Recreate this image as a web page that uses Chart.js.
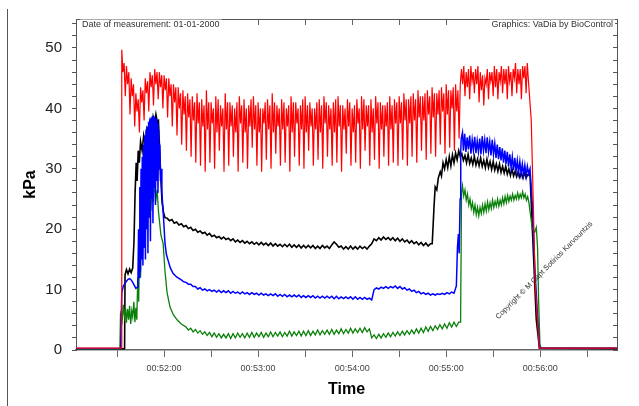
<!DOCTYPE html>
<html>
<head>
<meta charset="utf-8">
<script src="https://cdn.jsdelivr.net/npm/chart.js@4"></script>
<style>
  html, body { margin: 0; padding: 0; background: #fff; }
  #wrap { width: 639px; height: 406px; }
</style>
</head>
<body>
<div id="wrap"><canvas id="pressureChart" width="639" height="406"></canvas></div>
<script>
// time axis in seconds (00:51:04 .. 00:56:49)
const timeMin = 3063.8;
const timeMax = 3409;
const yMax = 54.8;

// red trace, logged every 0.75 s from 00:51:33 to 00:55:52
const redStart = 3093;
const redStep = 0.75;
const redValues = [
  49.7, 46, 47.5, 42,  47, 44, 46, 39,  45, 42, 44, 37,  42.5, 39.5, 41.5, 36,
  43.5, 41, 43, 38,  45, 42.5, 44.5, 39.5,  46, 43.5, 45.5, 40.5,  46.5, 44, 46, 41.5,
  46, 43.5, 45.5, 40,  45.5, 43, 45, 38.5,  45, 42, 44, 37,  44, 41, 43.5, 35.5,
  43.5, 40, 42.5, 34,  43, 39, 42, 33,  42.5, 38.5, 41.5, 32,  42, 38, 41, 31,
  42.5, 37.5, 41, 30.5,
  41.5, 37, 40.5, 29.5,  43, 36.5, 41, 31,  41, 37.5, 40, 30,  42, 36, 41.5, 33,
  40.5, 37, 40, 29.5,  42.5, 36.5, 41, 30.5,  41, 37, 40.5, 32,  40, 36, 41, 29.5,
  42, 37.5, 40.5, 31,  41.5, 36, 40, 30,  40.5, 37, 41.5, 33.5,  42, 36.5, 40.5, 30.5,
  41, 36, 40, 29.5,  40, 37.5, 41, 31.5,  41.5, 36.5, 40.5, 30,  42.5, 36, 41, 32.5,
  40.5, 37, 40, 30.5,  41.5, 36.5, 41, 31,  40, 37, 40.5, 29.5,  42, 36, 41, 32,
  41, 37.5, 40, 30.5,  40.5, 36.5, 41.5, 30,  42, 36, 40.5, 33,  41, 37, 40, 30.5,
  40, 36.5, 41, 31.5,  41.5, 36, 40.5, 30,  42, 37.5, 41, 32,  40.5, 36.5, 40, 30.5,
  41, 36, 41.5, 31,  42, 37, 40.5, 29.5,  40.5, 36.5, 40, 32.5,  41.5, 37, 41, 30.5,
  40, 36, 40.5, 31,  41.5, 37.5, 40, 30,  42, 36.5, 41.5, 33,  40.5, 37, 40.5, 30.5,
  41.5, 36, 40, 31.5,  42, 37.5, 41, 30,  41, 36.5, 40.5, 32,  40.5, 37, 41, 30.5,
  42, 36.5, 40.5, 31,  41.5, 37.5, 41, 30.5,
  42, 37.5, 41, 31.5,  42.5, 38, 41.5, 30.5,  41.5, 37.5, 42, 32,  42.5, 38, 41.5, 31,
  43, 38.5, 42, 33,  42, 38, 42.5, 31.5,  43, 39, 42, 32.5,  43.5, 38.5, 42.5, 32,
  42.5, 39, 43, 34,  43.5, 39.5, 42.5, 32.5,  44, 39, 43, 33.5,  43, 40, 43.5, 33,
  44, 39.5, 43, 35,
  44, 46.5,
  44, 47, 42, 46,  43.5, 46.5, 41.5, 47,  44.5, 46, 42.5, 46.5,  44, 47, 41, 46,
  43, 45.5, 40.5, 45,  44, 46.5, 41.5, 46,  44.5, 46, 42, 47,  43.5, 46.5, 41.5, 46,
  44.5, 47, 42.5, 46.5,  44, 46.5, 41.5, 47,  44.5, 46, 42, 46.5,  45, 47.5, 42.5, 46.5,
  44, 46.5, 41.5, 47,  45, 47, 42.5, 47.5,
  44.5
];
const redLead = [[3063.8, 0.3], [3092.6, 0.3]];
const redTail = [[3354.3, 38], [3356.8, 11], [3359.4, 0.3], [3409, 0.3]];

// black trace
const blackRise = [
  [3063.8, 0.2], [3094.8, 0.2], [3095.1, 12.5], [3096, 13.3], [3097, 12.6], [3098, 13.4], [3099, 12.8],
  [3100, 13.6], [3100.8, 18], [3101.5, 26], [3102.2, 31], [3102.8, 28], [3103.5, 33], [3104.2, 31],
  [3105, 34.5], [3106, 33], [3107, 35.5], [3108, 34], [3109, 36.5], [3110, 35.5], [3111, 37.8],
  [3112, 36.5], [3113, 38.6], [3114, 37.5], [3114.8, 39], [3115.6, 37.8], [3116.4, 38], [3117.2, 33],
  [3118, 28], [3118.7, 24.5], [3119.6, 22.8], [3120.6, 21.9]
];
const blackStart = 3122;
const blackStep = 1.5;
const blackValues = [
  21.8, 21.4, 21.6, 21.0, 21.2, 20.7, 20.9, 20.4, 20.6, 20.1,
  20.3, 19.8, 20.0, 19.5, 19.7, 19.3, 19.5, 19.0, 19.3, 18.8,
  19.0, 18.6, 18.8, 18.4, 18.7, 18.3, 18.5, 18.1, 18.4, 17.9,
  18.2, 17.8, 18.1, 17.7, 18.0, 17.6, 17.9, 17.5, 17.8, 17.4,
  17.8, 17.4, 17.7, 17.3, 17.7, 17.2, 17.6, 17.2, 17.5, 17.1,
  17.5, 17.1, 17.5, 17.0, 17.4, 17.0, 17.4, 16.9, 17.3, 16.9,
  17.3, 16.9, 17.3, 16.8, 17.2, 16.8, 17.3, 16.9, 17.2, 16.8,
  17.4, 17.9, 17.5, 17.0, 17.2, 16.7, 17.1, 16.7, 17.2, 16.7,
  17.1, 16.7, 17.2, 16.8, 17.1, 16.7, 17.2, 17.6, 18.4, 18.1,
  18.6, 18.2, 18.7, 18.3, 18.6, 18.2, 18.6, 18.1, 18.5, 18.0,
  18.4, 17.9, 18.2, 17.7, 18.1, 17.6, 17.9, 17.4, 17.8, 17.3,
  17.7, 17.2, 17.6
];
const blackEnd = [
  [3291.1, 17.6], [3292.3, 24], [3293, 27], [3294, 26.5], [3295, 28.5], [3296.2, 29.5], [3297, 28.8],
  [3298, 31], [3299, 30], [3300, 31.5], [3301, 30.2], [3302, 32], [3303, 30.5], [3304, 32.3],
  [3305, 31], [3306, 32.6], [3307, 31.5], [3308, 33], [3309, 32], [3310, 32.5], [3311, 31.4],
  [3312, 32.2], [3313, 31], [3314, 32.4], [3315, 30.9], [3316, 31.8], [3317, 30.7], [3318, 32],
  [3319, 30.6], [3320, 31.6], [3321, 30.5], [3322, 31.8], [3323, 30.4], [3324, 31.4], [3325, 30.2],
  [3326, 31.6], [3327, 30.2], [3328, 31.2], [3329, 29.9], [3330, 31.2], [3331, 29.8], [3332, 30.8],
  [3333, 29.6], [3334, 30.8], [3335, 29.4], [3336, 30.4], [3337, 29.3], [3338, 30.4], [3339, 29.1],
  [3340, 30], [3341, 28.9], [3342, 30], [3343, 28.8], [3344, 29.6], [3345, 28.7], [3346, 29.6],
  [3347, 28.6], [3348, 29.4], [3349, 28.5], [3350, 29.4], [3351, 28.5], [3352, 29], [3353.5, 29],
  [3355, 20], [3357.5, 5], [3359.5, 0.3], [3409, 0.2]
];

// blue trace
const blueRise = [
  [3063.8, 0.25], [3092.3, 0.25], [3093, 9.5], [3094, 10.6], [3095, 11], [3096, 11.4], [3097, 11.7],
  [3098, 11.8], [3099, 11.6], [3100, 11.2], [3101, 10.7], [3102, 10.2], [3103, 10.4], [3103.3, 11],
  [3103.7, 20], [3104.1, 12], [3104.5, 27], [3104.9, 13], [3105.3, 30], [3105.7, 15], [3106.1, 32],
  [3106.5, 14], [3106.9, 34], [3107.3, 17], [3107.7, 35.5], [3108.1, 15], [3108.5, 36.5], [3108.9, 20],
  [3109.3, 37], [3109.7, 16], [3110.1, 37.8], [3110.5, 22], [3110.9, 38.2], [3111.3, 18], [3111.7, 38.5],
  [3112.1, 25], [3112.5, 38.7], [3112.9, 21], [3113.3, 38.8], [3113.7, 27], [3114.1, 38.6], [3114.5, 24],
  [3114.9, 38.3], [3115.3, 28], [3115.7, 37.6], [3116.1, 26], [3116.5, 36.5], [3116.9, 30], [3117.3, 34],
  [3117.7, 28], [3118.1, 30], [3118.6, 26], [3119.4, 23], [3120.6, 17.6], [3121.5, 15.8], [3122.6, 14.8],
  [3124, 13.6], [3125.7, 12.7], [3128, 12.1]
];
const blueStart = 3131;
const blueStep = 1.5;
const blueValues = [
  11.6, 11.3, 11.2, 10.9, 10.9, 10.5, 10.5, 10.1, 10.3, 9.9,
  10.1, 9.8, 10.0, 9.7, 9.9, 9.6, 9.9, 9.5, 9.8, 9.5,
  9.8, 9.4, 9.7, 9.4, 9.6, 9.3, 9.6, 9.3, 9.5, 9.2,
  9.5, 9.2, 9.4, 9.1, 9.4, 9.1, 9.3, 9.0, 9.3, 9.0,
  9.3, 8.9, 9.2, 8.9, 9.2, 8.8, 9.1, 8.8, 9.1, 8.8,
  9.1, 8.7, 9.0, 8.7, 9.0, 8.7, 9.0, 8.6, 8.9, 8.6,
  8.9, 8.6, 8.9, 8.6, 8.9, 8.5, 8.9, 8.5, 8.8, 8.5,
  8.8, 8.5, 8.8, 8.4, 8.8, 8.4, 8.7, 8.4, 8.7, 8.4,
  8.6, 8.3, 10.0, 10.3, 10.1, 10.4, 10.2, 10.5, 10.2, 10.5,
  10.3, 10.6, 10.2, 10.5, 10.1, 10.3, 9.9, 10.1, 9.7, 9.9,
  9.5, 9.7, 9.3, 9.5, 9.2, 9.4, 9.1, 9.3, 9.1, 9.3,
  9.2, 9.4, 9.2, 9.5, 9.3, 9.6, 9.4
];
const blueEnd = [
  [3306.5, 10.6], [3307.2, 17], [3307.8, 19.2], [3308.3, 16], [3308.9, 25],
  [3309.3, 33], [3309.6, 35], [3310.4, 36], [3311, 33], [3311.8, 35.8], [3312.6, 32.8], [3313.4, 35.2],
  [3314.2, 33.2], [3315, 35.5], [3315.8, 32.5], [3316.6, 34.8], [3317.4, 33], [3318.2, 35.3], [3319, 32.6],
  [3319.8, 34.6], [3320.6, 32.8], [3321.4, 35], [3322.2, 32.4], [3323, 35.4], [3323.8, 33], [3324.6, 34.8],
  [3325.4, 32.6], [3326.2, 35.2], [3327, 32.8], [3327.8, 34.5], [3328.6, 32.2], [3329.4, 34.8], [3330.2, 32.4],
  [3331, 34.2], [3331.8, 31.8], [3332.6, 34], [3333.4, 31.6], [3334.2, 33.6], [3335, 31.4], [3335.8, 33.4],
  [3336.6, 31], [3337.4, 33], [3338.2, 30.8], [3339, 32.8], [3339.8, 30.4], [3340.6, 32.4], [3341.4, 30.2],
  [3342.2, 32], [3343, 29.8], [3343.8, 31.8], [3344.6, 29.6], [3345.4, 31.4], [3346.2, 29.4], [3347, 31.2],
  [3347.8, 29.2], [3348.6, 30.8], [3349.4, 29], [3350.2, 30.6], [3351, 28.8], [3351.8, 30.4], [3352.6, 29.2],
  [3353.5, 30], [3355, 24], [3356.5, 14], [3358, 7], [3359.5, 0.5], [3360.5, 0.3], [3409, 0.3]
];

// green trace
const greenRise = [
  [3063.8, 0.15], [3091.8, 0.15], [3092.2, 6], [3092.5, 6.5], [3093.3, 5], [3094, 7.5], [3094.7, 5.5],
  [3095.4, 7], [3096, 4.5], [3096.7, 6.8], [3097.4, 5], [3098, 7.3], [3098.7, 4.3], [3099.4, 6.5],
  [3100, 5.5], [3100.7, 8], [3101.4, 4.6], [3102, 7], [3102.6, 5], [3103.2, 12], [3103.8, 8],
  [3104.4, 18], [3105, 12], [3105.6, 21], [3106.2, 15], [3106.8, 23], [3107.4, 18], [3108, 24.5],
  [3108.6, 20], [3109.2, 25.5], [3110, 22], [3110.8, 26.5], [3111.6, 23], [3112.4, 27.5], [3113.2, 24.5],
  [3114, 27.8], [3114.8, 25], [3115.6, 26.5], [3116.4, 23], [3117.2, 21], [3118, 19], [3119.4, 17.6],
  [3120.6, 13], [3121.9, 9.5], [3123.8, 7.1], [3126, 5.8], [3128.3, 5], [3131, 4.3]
];
const greenStart = 3134;
const greenStep = 1.5;
const greenValues = [
  3.8, 3.3, 3.6, 3.0, 3.4, 2.8, 3.2, 2.6, 3.0, 2.4,
  2.9, 2.2, 2.8, 2.1, 2.7, 2.0, 2.6, 2.0, 2.7, 1.9,
  2.7, 2.0, 2.8, 2.1, 2.7, 2.0, 2.8, 2.1, 2.9, 2.1,
  2.8, 2.2, 2.9, 2.1, 2.8, 2.2, 3.0, 2.2, 2.9, 2.3,
  3.0, 2.2, 2.9, 2.3, 3.1, 2.3, 3.0, 2.4, 3.1, 2.3,
  3.1, 2.4, 3.2, 2.4, 3.1, 2.5, 3.3, 2.5, 3.2, 2.6,
  3.3, 2.6, 3.4, 2.6, 3.3, 2.7, 3.5, 2.7, 3.4, 2.8,
  3.6, 2.8, 3.5, 2.9, 3.6, 2.9, 3.7, 3.0, 3.5, 2.0,
  2.5, 1.9, 2.6, 2.0, 2.7, 2.1, 2.8, 2.2, 2.9, 2.3,
  3.0, 2.4, 3.1, 2.5, 3.2, 2.6, 3.3, 2.7, 3.5, 2.8,
  3.6, 2.9, 3.8, 3.1, 3.9, 3.2, 4.0, 3.4, 4.2, 3.5,
  4.3, 3.6, 4.5, 3.8, 4.6, 3.9, 4.6
];
const greenEnd = [
  [3309.2, 4.6], [3309.8, 26], [3310.4, 27.2],
  [3311.2, 25.5], [3312, 26.5], [3312.8, 24.8], [3313.6, 25.8], [3314.4, 24], [3315.2, 25], [3316, 23.4],
  [3316.8, 24.4], [3317.6, 22.8], [3318.4, 24], [3319.2, 22.4], [3320, 23.6], [3320.8, 22.2], [3321.6, 23.6],
  [3322.4, 22.6], [3323.2, 24], [3324, 22.8], [3324.8, 24.2], [3325.6, 23], [3326.4, 24.5], [3327.2, 23.2],
  [3328, 24.4], [3328.8, 23.4], [3329.6, 24.8], [3330.4, 23.6], [3331.2, 24.6], [3332, 23.8], [3332.8, 25],
  [3333.6, 23.8], [3334.4, 24.8], [3335.2, 24], [3336, 25.2], [3336.8, 24.2], [3337.6, 25.4], [3338.4, 24.4],
  [3339.2, 25.6], [3340, 24.6], [3340.8, 25.5], [3341.6, 24.8], [3342.4, 25.8], [3343.2, 24.8], [3344, 25.6],
  [3344.8, 25], [3345.6, 26], [3346.4, 25], [3347.2, 25.8], [3348, 25.2], [3348.8, 26.2], [3349.6, 25.2],
  [3350.4, 25.8], [3351.2, 24.8], [3352, 25.4], [3352.8, 24.4], [3353.5, 23], [3355, 20], [3356.5, 19.5],
  [3357.5, 20.3], [3358.3, 17], [3359, 8], [3359.8, 1], [3360.5, 0.3], [3409, 0.3]
];

function sampled(start, step, values) {
  return values.map((v, i) => [start + i * step, v]);
}

function toXY(points) {
  return points.map(p => ({ x: p[0], y: p[1] }));
}

function fmtTime(sec) {
  const m = Math.floor(sec / 60);
  const s = Math.round(sec - m * 60);
  return '00:' + String(m).padStart(2, '0') + ':' + String(s).padStart(2, '0');
}

const redSeries = redLead.concat(sampled(redStart, redStep, redValues), redTail);
const blackSeries = blackRise.concat(sampled(blackStart, blackStep, blackValues), blackEnd);
const blueSeries = blueRise.concat(sampled(blueStart, blueStep, blueValues), blueEnd);
const greenSeries = greenRise.concat(sampled(greenStart, greenStep, greenValues), greenEnd);

Chart.defaults.font.family = '"Liberation Sans", Arial, sans-serif';

function labelWithBg(ctx, text, x, y) {
  const w = ctx.measureText(text).width;
  const left = ctx.textAlign === 'right' ? x - w : x;
  ctx.fillStyle = '#fff';
  ctx.fillRect(left - 2, y - 5, w + 4, 10);
  ctx.fillStyle = '#333';
  ctx.fillText(text, x, y);
}

// texts printed inside the plot + the outer frame line
const overlayText = {
  id: 'overlayText',
  beforeDraw(chart) {
    const ctx = chart.ctx;
    ctx.save();
    ctx.strokeStyle = '#555';
    ctx.lineWidth = 1;
    ctx.beginPath();
    ctx.moveTo(7.5, 9);
    ctx.lineTo(7.5, 406);
    ctx.stroke();
    ctx.restore();
  },
  afterDraw(chart) {
    const ctx = chart.ctx;
    const a = chart.chartArea;
    ctx.save();
    ctx.font = '9px "Liberation Sans", Arial, sans-serif';
    ctx.textBaseline = 'middle';
    ctx.textAlign = 'left';
    labelWithBg(ctx, 'Date of measurement: 01-01-2000', a.left + 6, a.top + 5.5);
    ctx.textAlign = 'right';
    labelWithBg(ctx, 'Graphics: VaDia by BioControl', a.right - 4, a.top + 5.5);
    ctx.translate(497, 318);
    ctx.rotate(-0.79);
    ctx.textAlign = 'left';
    ctx.fillStyle = '#333';
    ctx.font = '7.5px "Liberation Sans", Arial, sans-serif';
    ctx.fillText('Copyright \u00A9 M Capt Sotirios Karvountzis', 0, 0);
    ctx.restore();
  }
};

new Chart(document.getElementById('pressureChart'), {
  type: 'line',
  data: {
    datasets: [
      { label: 'red', data: toXY(redSeries), borderColor: '#ff0000', borderWidth: 1.2 },
      { label: 'blue', data: toXY(blueSeries), borderColor: '#0000ff', borderWidth: 1.5 },
      { label: 'green', data: toXY(greenSeries), borderColor: '#0a800a', borderWidth: 1.3 },
      { label: 'black', data: toXY(blackSeries), borderColor: '#000000', borderWidth: 1.6 }
    ]
  },
  options: {
    responsive: false,
    animation: false,
    devicePixelRatio: 1,
    elements: {
      point: { radius: 0 },
      line: { tension: 0 }
    },
    layout: { padding: { left: 21, right: 22, top: 9, bottom: 7 } },
    plugins: {
      legend: { display: false },
      tooltip: { enabled: false }
    },
    scales: {
      x: {
        type: 'linear',
        position: 'bottom',
        min: timeMin,
        max: timeMax,
        ticks: {
          stepSize: 30,
          includeBounds: false,
          autoSkip: false,
          maxRotation: 0,
          padding: 6,
          color: '#444',
          font: { size: 9 },
          callback: v => (v % 60 === 0 ? fmtTime(v) : '')
        },
        grid: { drawOnChartArea: false, tickLength: 7, color: '#666' },
        border: { color: '#666', width: 1.5 },
        title: { display: true, text: 'Time', color: '#000', font: { size: 16, weight: 'bold' }, padding: 0 },
        afterFit: s => { s.height = 49; }
      },
      xTop: {
        type: 'linear',
        position: 'top',
        min: timeMin,
        max: timeMax,
        ticks: { display: false, stepSize: 30, includeBounds: false, autoSkip: false },
        grid: { drawOnChartArea: false, tickLength: -6, color: '#666' },
        border: { color: '#555' },
        afterFit: s => { s.height = 0; }
      },
      y: {
        position: 'left',
        min: 0,
        max: yMax,
        ticks: {
          stepSize: 2,
          includeBounds: false,
          autoSkip: false,
          padding: 10,
          color: '#222',
          font: { size: 15 },
          callback: v => (v % 10 === 0 ? String(v) : '')
        },
        grid: { drawOnChartArea: false, tickLength: 4, color: '#555' },
        border: { color: '#555' },
        title: { display: true, text: 'kPa', color: '#000', font: { size: 16, weight: 'bold' }, padding: 0 },
        afterFit: s => { s.width = 55; }
      },
      yRight: {
        position: 'right',
        min: 0,
        max: yMax,
        ticks: { display: false, stepSize: 2, includeBounds: false, autoSkip: false },
        grid: { drawOnChartArea: false, tickLength: -4, color: '#555' },
        border: { color: '#555' },
        afterFit: s => { s.width = 0; }
      }
    }
  },
  plugins: [overlayText]
});
</script>
</body>
</html>
